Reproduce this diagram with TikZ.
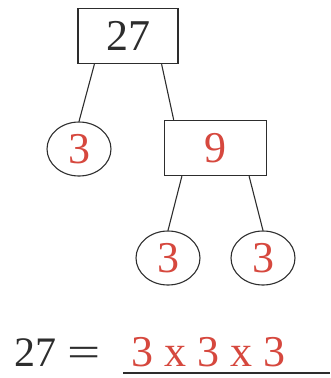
\documentclass[tikz,border=0pt]{standalone}
\usepackage{fontspec}
\usepackage{graphicx}
\setmainfont{Liberation Serif}
\usetikzlibrary{shapes.geometric}
\definecolor{factorred}{RGB}{214,72,62}
\definecolor{inkgray}{RGB}{45,45,45}

\begin{document}
\begin{tikzpicture}[x=1pt,y=1pt,every node/.style={font=\fontsize{44}{48}\selectfont,text=inkgray},
  numbox/.style={draw=inkgray,line width=1.4pt,rectangle,inner sep=0pt,minimum height=55pt},
  primering/.style={draw=inkgray,line width=1.1pt,ellipse,inner sep=0pt,minimum width=64pt,minimum height=54pt,text=factorred},
  branch/.style={draw=inkgray,line width=1.1pt}]
\useasboundingbox (0,0) rectangle (330,-378);
\node[numbox,minimum width=100pt] (n27) at (128,-36) {27};
\node[primering] (p1) at (79,-149) {3};
\node[numbox,minimum width=102pt,text=factorred] (n9) at (215.5,-148) {9};
\node[primering] (p2) at (168,-258) {3};
\node[primering] (p3) at (263,-258) {3};
\draw[branch] (n27.-140) -- (p1.north);
\draw[branch] (n27.-40) -- (n9.146);
\draw[branch] (n9.-140) -- (p2.north);
\draw[branch] (n9.-40) -- (p3.north);
\node[anchor=base west,font=\fontsize{42}{46}\selectfont] (lhs) at (11,-366) {27 \scalebox{1.4}[1]{=}};
\node[anchor=base west,font=\fontsize{44}{48}\selectfont,text=factorred] (rhs) at (128,-366) {3 x 3 x 3};
\coordinate (ruleL) at (123,-373);
\coordinate (ruleR) at (330,-373);
\draw[inkgray,line width=1.8pt] (ruleL) -- (ruleR);
\end{tikzpicture}
\end{document}
